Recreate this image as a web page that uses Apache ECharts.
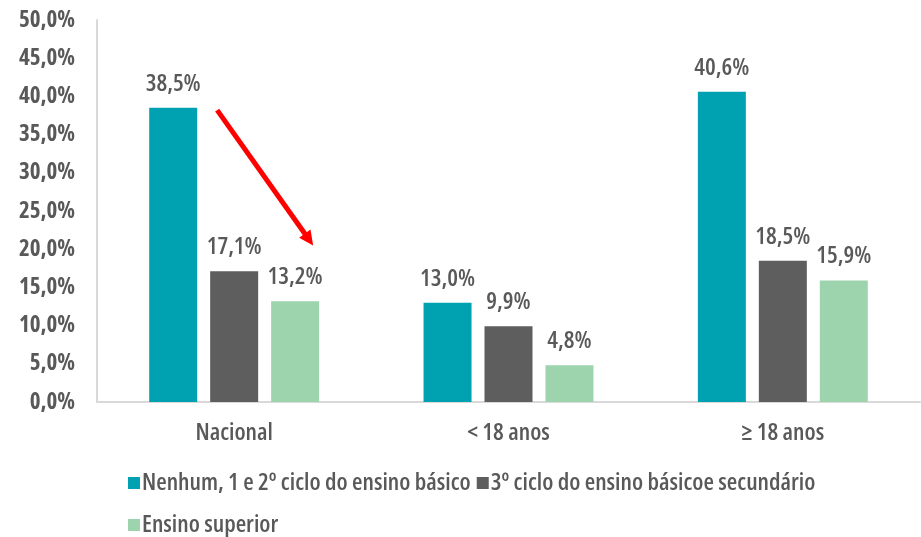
<!DOCTYPE html>
<html>
<head>
<meta charset="utf-8">
<script src="https://cdn.jsdelivr.net/npm/echarts@6/dist/echarts.min.js"></script>
<style>
html, body { margin: 0; padding: 0; background: #fff; }
#chart { width: 921px; height: 537px; }
</style>
</head>
<body>
<div id="chart"></div>
<script>
// dados
var categorias = ['Nacional', '< 18 anos', '\u2265 18 anos'];
var nomesSeries = ['Nenhum, 1 e 2\u00ba ciclo do ensino b\u00e1sico', '3\u00ba ciclo do ensino b\u00e1sicoe secund\u00e1rio', 'Ensino superior'];
var basico12 = [38.5, 13.0, 40.6];
var basico3Sec = [17.1, 9.9, 18.5];
var superior = [13.2, 4.8, 15.9];
var cores = ['#00A1B0', '#5E5E5E', '#9DD4AE'];

var fonte = '"Open Sans", sans-serif';
var estilo = 'condensed';
var cinza = '#595959';

function pct(v) {
    return v.toFixed(1).replace('.', ',') + '%';
}

function serie(nome, dados, cor) {
    return {
        name: nome,
        type: 'bar',
        data: dados,
        barWidth: 48,
        barGap: '27%',
        itemStyle: { color: cor },
        label: {
            show: true,
            position: 'top',
            distance: 12,
            color: cinza,
            fontFamily: fonte,
            fontStyle: estilo,
            fontWeight: 600,
            fontSize: 24,
            formatter: function (p) { return pct(p.value); }
        }
    };
}

var textoLegenda = { color: cinza, fontSize: 24, fontWeight: 600, fontFamily: fonte, fontStyle: estilo, padding: [0, 0, 0, -3] };

var dom = document.getElementById('chart');
var myChart = echarts.init(dom);
var option = {
    animation: false,
    grid: { left: 97, right: 1, top: 20, bottom: 135, containLabel: false },
    legend: [{
        data: nomesSeries.slice(0, 2),
        left: 123,
        top: 466,
        itemWidth: 12,
        itemHeight: 12,
        itemGap: 6,
        icon: 'rect',
        textStyle: textoLegenda
    }, {
        data: nomesSeries.slice(2),
        left: 123,
        top: 508,
        itemWidth: 12,
        itemHeight: 12,
        icon: 'rect',
        textStyle: textoLegenda
    }],
    xAxis: {
        type: 'category',
        data: categorias,
        axisLine: { lineStyle: { color: '#D9D9D9', width: 2 } },
        axisTick: { show: false },
        axisLabel: { color: cinza, fontSize: 24, fontWeight: 600, fontFamily: fonte, fontStyle: estilo, margin: 19 }
    },
    yAxis: {
        type: 'value',
        min: 0,
        max: 50,
        interval: 5,
        axisLine: { show: true, lineStyle: { color: '#D9D9D9', width: 2 } },
        axisTick: { show: false },
        splitLine: { show: false },
        axisLabel: {
            color: cinza,
            fontSize: 23,
            fontWeight: 'bold',
            fontFamily: fonte,
            fontStyle: estilo,
            margin: 22,
            formatter: function (v) { return pct(v); }
        }
    },
    series: [
        serie(nomesSeries[0], basico12, cores[0]),
        serie(nomesSeries[1], basico3Sec, cores[1]),
        serie(nomesSeries[2], superior, cores[2])
    ]
};
myChart.setOption(option);

// seta vermelha (anotação) a partir de coordenadas dos dados
var centro = myChart.convertToPixel({ xAxisIndex: 0 }, categorias[0]);
var yIni = myChart.convertToPixel({ yAxisIndex: 0 }, 38.2);
var yFim = myChart.convertToPixel({ yAxisIndex: 0 }, 20.5);
var x1 = centro - 17, y1 = yIni, x2 = centro + 79, y2 = yFim;
var ang = Math.atan2(y2 - y1, x2 - x1);
var tam = 16, abre = 0.45;
var ponta = [
    [x2, y2],
    [x2 - tam * Math.cos(ang - abre), y2 - tam * Math.sin(ang - abre)],
    [x2 - tam * Math.cos(ang + abre), y2 - tam * Math.sin(ang + abre)]
];
myChart.setOption({
    graphic: [{
        type: 'line',
        shape: { x1: x1, y1: y1, x2: x2 - 10 * Math.cos(ang), y2: y2 - 10 * Math.sin(ang) },
        style: { stroke: '#FF0000', lineWidth: 5 }
    }, {
        type: 'polygon',
        shape: { points: ponta },
        style: { fill: '#FF0000' }
    }]
});
</script>
</body>
</html>
